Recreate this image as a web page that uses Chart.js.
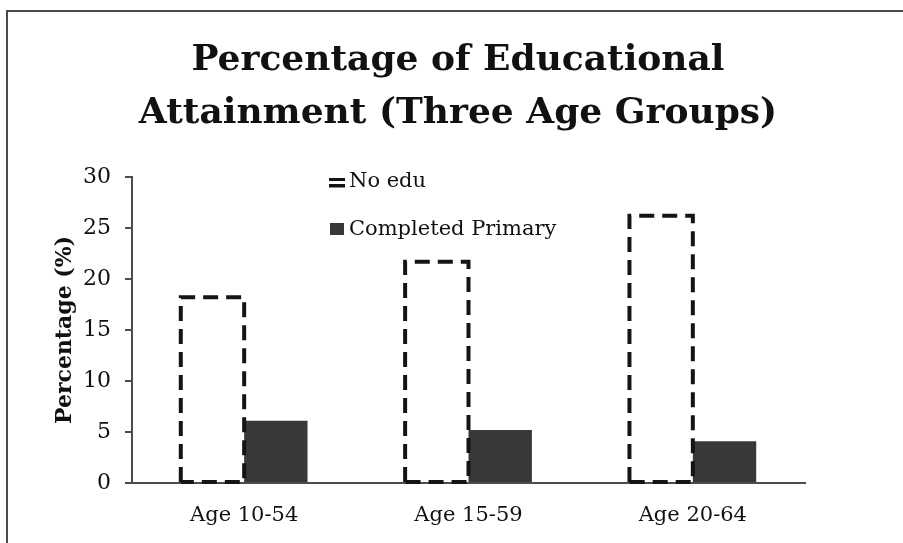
<!DOCTYPE html>
<html>
<head>
<meta charset="utf-8">
<script src="https://cdn.jsdelivr.net/npm/chart.js@4.4.1/dist/chart.umd.min.js"></script>
<style>
  html, body { margin: 0; padding: 0; background: #fff; overflow: hidden; }
  #wrap { position: relative; width: 903px; height: 543px; }
  #frame { position: absolute; left: 6px; top: 10px; width: 1000px; height: 1000px;
           border-top: 2px solid #4a4a4a; border-left: 2px solid #4a4a4a; }
  canvas { position: absolute; left: 0; top: 0; }
</style>
</head>
<body>
<div id="wrap">
  <div id="frame"></div>
  <canvas id="chart" width="903" height="543"></canvas>
</div>
<script>
// Age groups on the x axis
const categories = ['Age 10-54', 'Age 15-59', 'Age 20-64'];
// Share of each age group (%)
const noEdu = [18.2, 21.7, 26.2];
const completedPrimary = [6.1, 5.2, 4.1];
const seriesLabels = ['No edu', 'Completed Primary'];
const yTicks = [0, 5, 10, 15, 20, 25, 30];
const titleLines = ['Percentage of Educational', 'Attainment (Three Age Groups)'];
const yTitle = 'Percentage (%)';

const SERIF = "'DejaVu Serif', 'Liberation Serif', serif";
const INK = '#111';
const AXIS = '#4d4d4d';
const FILL = '#383838';

// Outlines the "No edu" bars with a dashed stroke (all four sides)
const dashedBars = {
  id: 'dashedBars',
  afterDatasetsDraw(chart) {
    const ctx = chart.ctx;
    const meta = chart.getDatasetMeta(0);
    ctx.save();
    ctx.strokeStyle = '#141414';
    ctx.lineWidth = 4;
    ctx.setLineDash([15, 8]);
    meta.data.forEach(bar => {
      const { x, y, base, width } = bar.getProps(['x', 'y', 'base', 'width'], true);
      const l = x - width / 2, r = x + width / 2;
      ctx.beginPath();
      ctx.moveTo(l, base);
      ctx.lineTo(l, y);
      ctx.lineTo(r, y);
      ctx.lineTo(r, base);
      ctx.lineTo(l, base);
      ctx.stroke();
    });
    ctx.restore();
  }
};

// Two-row legend inside the plot area
const stackedLegend = {
  id: 'stackedLegend',
  afterDraw(chart) {
    const ctx = chart.ctx;
    const ca = chart.chartArea;
    const x0 = ca.left + 197;
    const rows = [ca.top + 10, ca.top + 58];
    ctx.save();
    ctx.font = '21px ' + SERIF;
    ctx.textBaseline = 'alphabetic';
    ctx.textAlign = 'left';
    // dashed-outline swatch
    ctx.fillStyle = '#141414';
    ctx.fillRect(x0, rows[0] - 9, 16, 3);
    ctx.fillRect(x0, rows[0] - 3, 16, 3.5);
    // solid swatch
    ctx.fillStyle = FILL;
    ctx.fillRect(x0 + 1, rows[1] - 12, 14, 12);
    ctx.fillStyle = INK;
    ctx.fillText(chart.data.datasets[0].label, x0 + 20, rows[0]);
    ctx.fillText(chart.data.datasets[1].label, x0 + 20, rows[1]);
    ctx.restore();
  }
};

new Chart(document.getElementById('chart'), {
  type: 'bar',
  data: {
    labels: categories,
    datasets: [
      { label: seriesLabels[0], data: noEdu, backgroundColor: 'rgba(255,255,255,0)', borderWidth: 0 },
      { label: seriesLabels[1], data: completedPrimary, backgroundColor: FILL, borderWidth: 0 }
    ]
  },
  options: {
    responsive: false,
    animation: false,
    devicePixelRatio: 1,
    layout: { padding: { left: 13, right: 0, top: 0, bottom: 0 } },
    datasets: { bar: { barPercentage: 1, categoryPercentage: 0.565 } },
    plugins: {
      legend: { display: false },
      tooltip: { enabled: false },
      title: {
        display: true,
        text: titleLines,
        color: INK,
        font: { family: SERIF, weight: 'bold', size: 36, lineHeight: 53 / 36 },
        padding: { top: 34, bottom: 37 }
      }
    },
    scales: {
      x: {
        grid: { display: false, drawTicks: false },
        border: { display: true, color: AXIS, width: 2 },
        ticks: { color: INK, font: { family: SERIF, size: 21 }, padding: 20 },
        afterFit(scale) { scale.height = 60; }
      },
      y: {
        min: 0,
        max: 30,
        afterBuildTicks(scale) { scale.ticks = yTicks.map(v => ({ value: v })); },
        grid: { display: true, drawOnChartArea: false, drawTicks: true, tickLength: 7, color: AXIS, lineWidth: 2 },
        border: { display: true, color: AXIS, width: 2 },
        ticks: { color: INK, font: { family: SERIF, size: 22 }, padding: 14 },
        title: {
          display: true,
          text: yTitle,
          color: INK,
          font: { family: SERIF, weight: 'bold', size: 22 },
          padding: { top: 39, bottom: 0 }
        },
        afterFit(scale) { scale.width = 119; }
      },
      // empty margin on the right of the plot
      pad: {
        type: 'linear',
        position: 'right',
        display: true,
        grid: { display: false },
        border: { display: false },
        ticks: { display: false },
        afterFit(scale) { scale.width = 98; }
      }
    }
  },
  plugins: [dashedBars, stackedLegend]
});
</script>
</body>
</html>
